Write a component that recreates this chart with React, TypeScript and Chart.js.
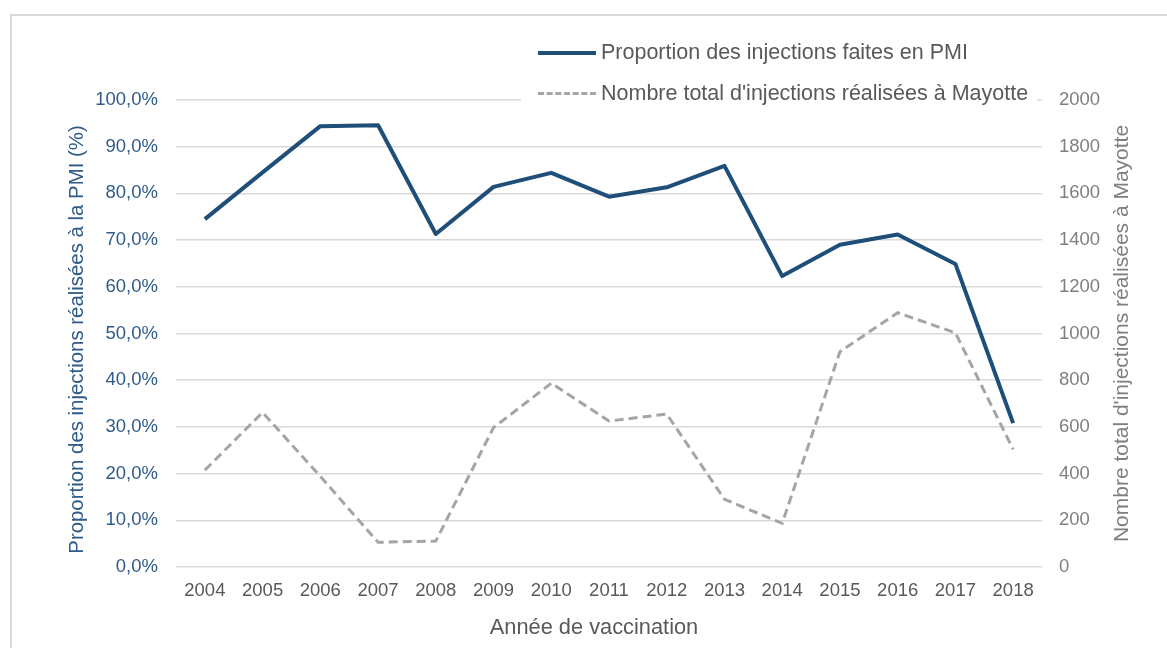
import React, { useEffect, useRef } from "react";
import { Chart, registerables } from "chart.js";

Chart.register(...registerables);

// ---- data ----
const years = ["2004", "2005", "2006", "2007", "2008", "2009", "2010", "2011", "2012", "2013", "2014", "2015", "2016", "2017", "2018"];
const pmiShare = [74.5, 84.5, 94.4, 94.6, 71.3, 81.4, 84.4, 79.3, 81.3, 85.9, 62.3, 69.0, 71.2, 64.9, 30.8];
const totalInjections = [415, 662, 388, 106, 111, 597, 787, 625, 655, 290, 187, 922, 1089, 1003, 504];

const seriesLabels = ["Proportion des injections faites en PMI", "Nombre total d'injections réalisées à Mayotte"];
const xTitle = "Année de vaccination";
const leftTitle = "Proportion des injections réalisées à la PMI (%)";
const rightTitle = "Nombre total d'injections réalisées à Mayotte";

// ---- styles ----
const FONT = "'Liberation Sans', Arial, sans-serif";
const BLUE = "#1f4e79";
const BLUE_TEXT = "#2f5b88";
const GRAY_LINE = "#a5a5a5";
const GRAY_TEXT = "#7f7f7f";
const DARK_TEXT = "#595959";
const GRID = "#d9d9d9";
const TICK_SIZE = 18.5;
const TITLE_SIZE = 21.5;

const axisTitlesPlugin = {
  id: "axisTitles",
  afterDraw(chart: any) {
    const { ctx, chartArea } = chart;
    const midY = (chartArea.top + chartArea.bottom) / 2;
    ctx.save();
    ctx.textAlign = "center";
    ctx.textBaseline = "middle";

    ctx.save();
    ctx.font = `20.4px ${FONT}`;
    ctx.fillStyle = BLUE_TEXT;
    ctx.translate(chartArea.left - 99, midY + 6);
    ctx.rotate(-Math.PI / 2);
    ctx.fillText(leftTitle, 0, 0);
    ctx.restore();

    ctx.save();
    ctx.font = `21px ${FONT}`;
    ctx.fillStyle = GRAY_TEXT;
    ctx.translate(chartArea.right + 80, midY);
    ctx.rotate(-Math.PI / 2);
    ctx.fillText(rightTitle, 0, 0);
    ctx.restore();

    ctx.font = `${TITLE_SIZE + 0.3}px ${FONT}`;
    ctx.fillStyle = DARK_TEXT;
    ctx.fillText(xTitle, (chartArea.left + chartArea.right) / 2 - 15, chartArea.bottom + 61);
    ctx.restore();
  },
};

export default function App() {
  const canvasRef = useRef<HTMLCanvasElement | null>(null);

  useEffect(() => {
    const canvas = canvasRef.current;
    if (!canvas) return;
    const chart = new Chart(canvas, {
      type: "line",
      data: {
        labels: years,
        datasets: [
          {
            label: seriesLabels[0],
            data: pmiShare,
            yAxisID: "y",
            borderColor: BLUE,
            backgroundColor: BLUE,
            borderWidth: 4,
            pointRadius: 0,
            tension: 0,
            borderJoinStyle: "round",
            order: 0,
          },
          {
            label: seriesLabels[1],
            data: totalInjections,
            yAxisID: "y1",
            borderColor: GRAY_LINE,
            backgroundColor: GRAY_LINE,
            borderWidth: 3,
            borderDash: [9, 5],
            pointRadius: 0,
            tension: 0,
            order: 1,
          },
        ],
      },
      options: {
        responsive: false,
        animation: false,
        layout: { padding: { left: 0, right: 0, top: 100, bottom: 0 } },
        plugins: {
          legend: { display: false },
          tooltip: { enabled: false },
        },
        scales: {
          x: {
            type: "category",
            offset: true,
            grid: { display: false, drawTicks: false },
            border: { display: false },
            ticks: { color: DARK_TEXT, font: { family: FONT, size: TICK_SIZE }, padding: 13, maxRotation: 0 },
            afterFit: (s: any) => { s.height = 81; },
          },
          y: {
            position: "left",
            min: 0,
            max: 100,
            ticks: {
              stepSize: 10,
              color: BLUE_TEXT,
              font: { family: FONT, size: TICK_SIZE },
              padding: 18,
              callback: (v: any) => Number(v).toFixed(1).replace(".", ",") + "%",
            },
            grid: { color: GRID, lineWidth: 1.5, drawTicks: false },
            border: { display: false },
            afterFit: (s: any) => { s.width = 176; },
          },
          y1: {
            position: "right",
            min: 0,
            max: 2000,
            ticks: {
              stepSize: 200,
              color: GRAY_TEXT,
              font: { family: FONT, size: TICK_SIZE },
              padding: 17,
              callback: (v: any) => String(v),
            },
            grid: { display: false, drawTicks: false },
            border: { display: false },
            afterFit: (s: any) => { s.width = 125; },
          },
        },
      },
      plugins: [axisTitlesPlugin],
    });
    return () => chart.destroy();
  }, []);

  const legendRow = (dashed: boolean, color: string, text: string) => (
    <div style={{ display: "flex", alignItems: "center", height: 41 }}>
      <div
        style={{
          width: 58,
          height: 0,
          borderTop: dashed ? `3px dashed ${color}` : `4px solid ${color}`,
          marginRight: 5,
        }}
      />
      <span style={{ font: `${TITLE_SIZE}px ${FONT}`, color: DARK_TEXT, whiteSpace: "nowrap" }}>{text}</span>
    </div>
  );

  return (
    <div style={{ position: "fixed", left: 0, top: 0, width: 1167, height: 648, background: "#fff", overflow: "hidden" }}>
      <div
        style={{
          position: "absolute",
          left: 10,
          top: 14,
          width: 1300,
          height: 800,
          border: `2px solid ${GRID}`,
          boxSizing: "border-box",
        }}
      />
      <canvas ref={canvasRef} width={1167} height={648} style={{ position: "absolute", left: 0, top: 0, display: "block" }} />
      <div
        style={{
          position: "absolute",
          left: 521,
          top: 32,
          width: 516,
          height: 72,
          background: "#fff",
          paddingLeft: 17,
          boxSizing: "border-box",
        }}
      >
        {legendRow(false, BLUE, seriesLabels[0])}
        {legendRow(true, GRAY_LINE, seriesLabels[1])}
      </div>
    </div>
  );
}
